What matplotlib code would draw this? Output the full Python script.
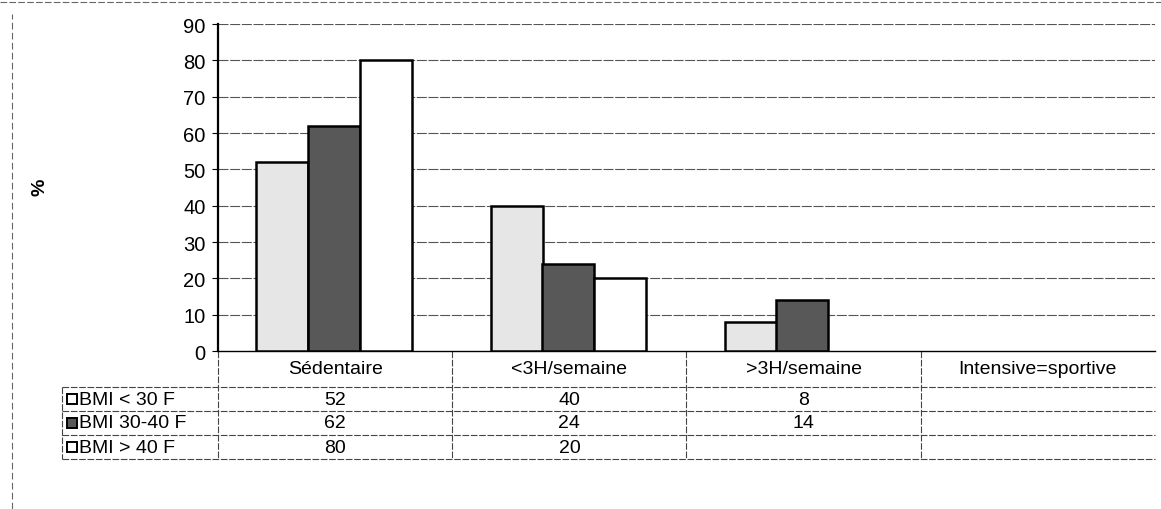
import matplotlib.pyplot as plt
import matplotlib.transforms as mtransforms
from matplotlib.patches import Rectangle
from matplotlib.lines import Line2D

plt.rcParams['font.family'] = ['Liberation Sans', 'DejaVu Sans']

categories = ['Sédentaire', '<3H/semaine', '>3H/semaine', 'Intensive=sportive']
series_names = ['BMI < 30 F', 'BMI 30-40 F', 'BMI > 40 F']
bmi_lt30 = [52, 40, 8, None]
bmi_30_40 = [62, 24, 14, None]
bmi_gt40 = [80, 20, None, None]
y_ticks = [0, 10, 20, 30, 40, 50, 60, 70, 80, 90]

series = [bmi_lt30, bmi_30_40, bmi_gt40]
face_colors = ['#e6e6e6', '#585858', 'white']
legend_colors = ['white', '#585858', 'white']

fig = plt.figure(figsize=(11.61, 5.10), dpi=100)
ax = fig.add_axes([0.1878, 0.3098, 0.807, 0.641])

width = 0.222
offsets = [-0.225, -0.005, 0.215]
x = list(range(len(categories)))

for vals, fc, off in zip(series, face_colors, offsets):
    for xi, v in zip(x, vals):
        if v is None:
            continue
        ax.bar(xi + off, v, width, color=fc, edgecolor='black', linewidth=1.8, zorder=3)

ax.set_xlim(-0.5, len(categories) - 0.5)
ax.set_ylim(0, 90)
ax.set_yticks(y_ticks)
ax.set_yticklabels([str(t) for t in y_ticks], fontsize=14.5)
ax.tick_params(axis='y', length=4, width=0.8, pad=5)
ax.set_xticks([])
for yt in y_ticks[1:]:
    ax.axhline(yt, color='#555555', lw=0.8, ls=(0, (9, 1.5)), zorder=1)
ax.spines['top'].set_visible(False)
ax.spines['right'].set_visible(False)
ax.spines['left'].set_linewidth(1.6)
ax.spines['bottom'].set_linewidth(1.0)

fig.text(40 / 1161, 1 - 187 / 510, '%', rotation=90, fontsize=14, fontweight='bold',
         ha='center', va='center')

# data table below the chart
trans = mtransforms.blended_transform_factory(ax.transData, ax.transAxes)
header_y = -0.055
row_lines = [-0.110, -0.183, -0.257, -0.330]
row_centers = [-0.147, -0.220, -0.294]
table_left = -1.167
table_right = len(categories) - 0.5
line_kw = dict(color='#444444', lw=0.8, ls=(0, (6, 1.5)), clip_on=False, transform=trans)

for xi, cat in zip(x, categories):
    ax.text(xi, header_y, cat, transform=trans, ha='center', va='center', fontsize=14)

for yl in row_lines:
    ax.add_line(Line2D([table_left, table_right], [yl, yl], **line_kw))
for xb in [-0.5, 0.5, 1.5, 2.5]:
    ax.add_line(Line2D([xb, xb], [0, row_lines[-1]], **line_kw))
ax.add_line(Line2D([table_left, table_left], [row_lines[0], row_lines[-1]], **line_kw))

for name, vals, fc, yc in zip(series_names, series, legend_colors, row_centers):
    ax.add_patch(Rectangle((table_left + 0.022, yc - 0.016), 0.042, 0.032, transform=trans,
                           facecolor=fc, edgecolor='black', lw=1.4, clip_on=False))
    ax.text(table_left + 0.075, yc, name, transform=trans, ha='left', va='center', fontsize=14)
    for xi, v in zip(x, vals):
        if v is None:
            continue
        ax.text(xi, yc, str(v), transform=trans, ha='center', va='center', fontsize=14)

# scanned page frame
fig.add_artist(Line2D([0, 1], [0.994, 0.994], color='#666666', lw=0.8, ls=(0, (6, 2)),
                      transform=fig.transFigure))
fig.add_artist(Line2D([12 / 1161, 12 / 1161], [0, 0.97], color='#666666', lw=0.8,
                      ls=(0, (6, 3)), transform=fig.transFigure))

fig.savefig('out.png', dpi=100)
